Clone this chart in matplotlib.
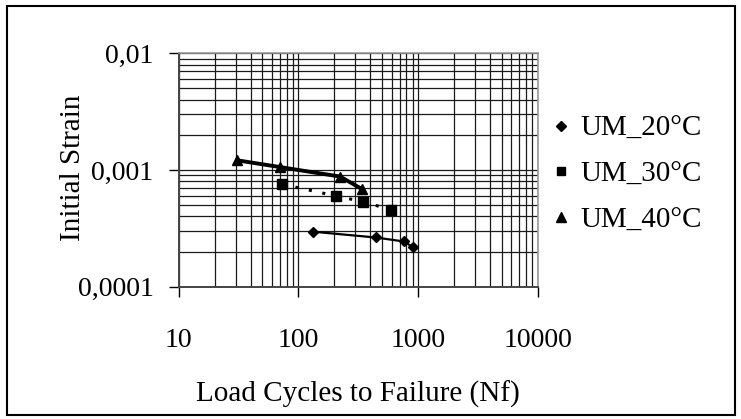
import matplotlib
matplotlib.use("Agg")
import matplotlib.pyplot as plt
from matplotlib.lines import Line2D
from matplotlib.patches import Rectangle
from matplotlib.ticker import LogLocator, NullFormatter

plt.rcParams['font.family'] = ['Liberation Serif', 'DejaVu Serif']

# Data
nf_20 = [133, 443, 763, 912]
strain_20 = [0.000296, 0.000264, 0.000244, 0.000217]
nf_30 = [73, 205, 349, 594]
strain_30 = [0.000755, 0.000600, 0.000534, 0.000456]
nf_40 = [31, 70, 223, 338]
strain_40 = [0.00121, 0.00106, 0.000879, 0.000689]
labels = ['UM_20°C', 'UM_30°C', 'UM_40°C']
x_ticks = [10, 100, 1000, 10000]
x_tick_labels = ['10', '100', '1000', '10000']
y_ticks = [0.0001, 0.001, 0.01]
y_tick_labels = ['0,0001', '0,001', '0,01']

W, H = 741, 419
fig = plt.figure(figsize=(W / 100, H / 100), dpi=100)
ax = fig.add_axes([178.6 / W, (H - 286.7) / H, 359.2 / W, 233.4 / H])

ax.set_xscale('log')
ax.set_yscale('log')
ax.set_xlim(10, 10000)
ax.set_ylim(0.0001, 0.01)

# series
ax.plot(nf_20, strain_20, color='black', lw=1.6, marker='D', ms=5.0, zorder=5)
ax.plot(nf_30, strain_30, color='black', lw=2.2, ls=(0, (1, 3.5)), marker='s', ms=6.7, zorder=5)
ax.plot(nf_40, strain_40, color='black', lw=2.8, marker='^', ms=7.0, zorder=5)

# ticks
ax.set_xticks(x_ticks)
ax.set_xticklabels(x_tick_labels)
ax.set_yticks(y_ticks)
ax.set_yticklabels(y_tick_labels)
ax.xaxis.set_minor_locator(LogLocator(base=10, subs=range(2, 10)))
ax.yaxis.set_minor_locator(LogLocator(base=10, subs=range(2, 10)))
ax.xaxis.set_minor_formatter(NullFormatter())
ax.yaxis.set_minor_formatter(NullFormatter())
ax.tick_params(which='minor', length=0)
ax.tick_params(axis='x', which='major', direction='out', length=7, width=1, pad=23, labelsize=20)
ax.tick_params(axis='y', which='major', direction='out', length=7, width=1, pad=11, labelsize=20)
ax.tick_params(top=False, right=False)

ax.grid(True, which='both', color='#1a1a1a', lw=0.9)
ax.set_axisbelow(True)

for s in ['top', 'right']:
    ax.spines[s].set_color('#999999')
    ax.spines[s].set_linewidth(1.2)
for s in ['bottom', 'left']:
    ax.spines[s].set_color('#444444')
    ax.spines[s].set_linewidth(1.4)

# axis labels
ax.set_xlabel('Load Cycles to Failure (Nf)', fontsize=21)
ax.xaxis.label.set_va('baseline')
ax.xaxis.set_label_coords(0.5, (286.7 - 401.7) / 233.4)
ax.set_ylabel('Initial Strain', fontsize=21)
ax.yaxis.label.set_va('center')
ax.yaxis.set_label_coords((73 - 178.6) / 359.2, (286.7 - 167.5) / 233.4)

# legend (markers only)
handles = [
    Line2D([], [], color='black', ls='none', marker='D', ms=4.6),
    Line2D([], [], color='black', ls='none', marker='s', ms=6.0),
    Line2D([], [], color='black', ls='none', marker='^', ms=6.5),
]
fig.legend(handles, labels, loc='center left',
           bbox_to_anchor=(549.4 / W, (H - 174.5) / H),
           frameon=False, fontsize=21, handlelength=0.8, handletextpad=0.26,
           borderpad=0, borderaxespad=0, labelspacing=0.66)

# figure border
fig.patches.append(Rectangle((7 / W, (H - 415) / H), (735 - 7) / W, (415 - 6) / H,
                             transform=fig.transFigure, fill=False,
                             edgecolor='black', lw=1.5))

fig.savefig('out.png', dpi=100)
